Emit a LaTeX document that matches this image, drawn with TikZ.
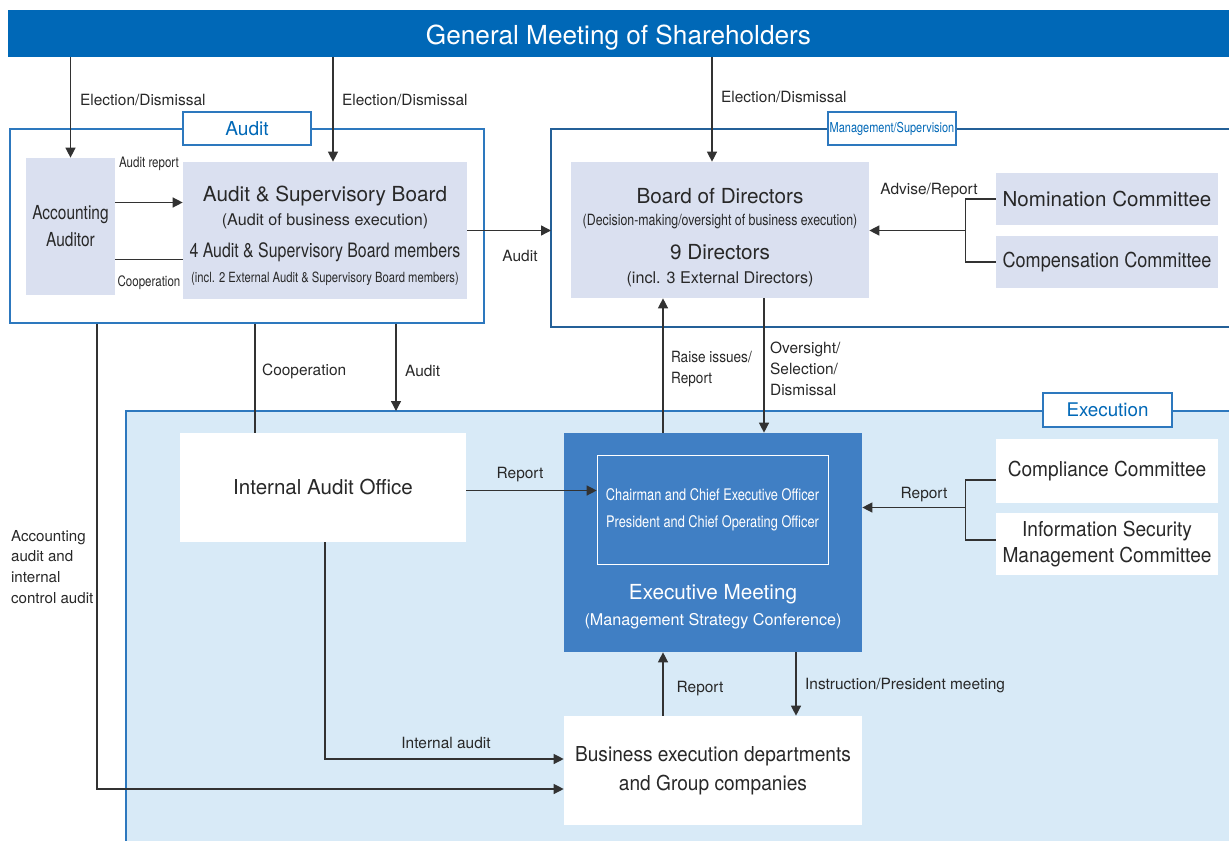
\documentclass[tikz,border=0pt]{standalone}
\usepackage{fontspec}
\setmainfont{TeX Gyre Heros}
\newfontfamily\condfont[FakeStretch=0.8]{TeX Gyre Heros}
\newfontfamily\semifont[FakeStretch=0.88]{TeX Gyre Heros}
\newfontfamily\nearfont[FakeStretch=0.93]{TeX Gyre Heros}
\usetikzlibrary{arrows.meta,calc}
\definecolor{shblue}{RGB}{0,104,183}
\definecolor{frameblue}{RGB}{45,120,190}
\definecolor{boxfill}{RGB}{218,224,240}
\definecolor{execfill}{RGB}{216,234,247}
\definecolor{emblue}{RGB}{64,127,196}
\definecolor{txtgray}{RGB}{40,40,40}
\definecolor{linegray}{RGB}{50,50,50}
\begin{document}
\begin{tikzpicture}[x=0.02cm, y=-0.02cm, >={Triangle[length=2mm,width=2mm]},
    box/.style={fill=boxfill, text=txtgray, inner sep=0pt, align=center, font=\fontsize{11.7}{16.4}\selectfont},
    lbl/.style={text=txtgray, inner sep=1pt, font=\fontsize{8.8}{11.9}\selectfont},
    small/.style={text=txtgray, inner sep=1pt, font=\fontsize{8.2}{10}\condfont},
    tag/.style={draw=frameblue, fill=white, text=shblue, inner sep=0pt, line width=0.8pt, minimum width=2.56cm, minimum height=0.66cm},
    conn/.style={draw=linegray, line width=0.75pt}]
    \useasboundingbox (0,0) rectangle (1229,841);

    % areas
    \fill[execfill] (126,411) rectangle (1229,841);
    \draw[frameblue, line width=0.8pt] (1229,411) -| (126,841);
    \coordinate (exnw) at (126,411);
    \draw[frameblue!80!black, line width=0.8pt] (1229,129) -| (551,327) -- (1229,327);
    \coordinate (mgw) at (551,230);
    \node[draw=frameblue, line width=0.8pt, minimum width=9.48cm, minimum height=3.88cm] (auditbox) at (247,226) {};

    \node[fill=shblue, text=white, inner sep=0pt, minimum width=24.42cm, minimum height=0.94cm,
          font=\fontsize{14.9}{18}\selectfont, text height=14.4pt, text depth=2pt] (title) at (618.5,33.5) {General Meeting of Shareholders};

    \node[tag, font=\fontsize{10.9}{13}\selectfont] (auditlbl) at (auditbox.north) {Audit};
    \node[tag, font=\fontsize{7.8}{9}\condfont] (mgmtlbl) at (892,128.5) {Management/Supervision};
    \node[tag, minimum width=2.58cm, minimum height=0.68cm, font=\fontsize{10.7}{13}\selectfont] (execlbl) at (1107.5,410) {Execution};

    % audit side
    \node[box, minimum width=1.78cm, minimum height=2.74cm, font=\fontsize{11}{15.3}\condfont] (acc) at (70.5,226.5) {Accounting\\Auditor};
    \node[box, minimum width=5.68cm, minimum height=2.74cm] (asb) at (325,230.5) {};
    \node[text=txtgray, font=\fontsize{11.8}{14}\selectfont] (asb1) at (325,196) {Audit \& Supervisory Board};
    \node[text=txtgray, font=\fontsize{9.2}{11}\selectfont] (asb2) at (325,221) {(Audit of business execution)};
    \node[text=txtgray, font=\fontsize{11.3}{14}\condfont] (asb3) at (325,252) {4 Audit \& Supervisory Board members};
    \node[text=txtgray, font=\fontsize{8}{10}\condfont] (asb4) at (325,279) {(incl. 2 External Audit \& Supervisory Board members)};

    % management side
    \node[box, minimum width=5.96cm, minimum height=2.72cm] (bod) at (720,230) {};
    \node[text=txtgray, font=\fontsize{11.8}{14}\selectfont] (bod1) at (720,196) {Board of Directors};
    \node[text=txtgray, font=\fontsize{8.8}{10}\condfont] (bod2) at (720,222) {(Decision-making/oversight of business execution)};
    \node[text=txtgray, font=\fontsize{11.8}{14}\selectfont] (bod3) at (720,252) {9 Directors};
    \node[text=txtgray, font=\fontsize{9.2}{11}\selectfont] (bod4) at (720,279) {(incl. 3 External Directors)};
    \node[box, minimum width=4.44cm, minimum height=1.04cm] (nom) at (1107,199) {Nomination Committee};
    \node[box, minimum width=4.44cm, minimum height=1.04cm, font=\fontsize{11.7}{16.4}\semifont] (comp) at (1107,262) {Compensation Committee};

    % execution side
    \node[box, fill=white, minimum width=5.72cm, minimum height=2.18cm] (iao) at (323,487.5) {Internal Audit Office};
    \node[fill=emblue, inner sep=0pt, minimum width=5.96cm, minimum height=4.38cm] (em) at (713,542.5) {};
    \node[draw=white, text=white, inner sep=0pt, align=center, minimum width=4.62cm, minimum height=2.18cm,
          font=\fontsize{9.1}{15.3}\condfont] (inner) at (712.5,509.5) {Chairman and Chief Executive Officer\\President and Chief Operating Officer};
    \node[text=white, font=\fontsize{11.8}{14}\selectfont] (em1) at (713,594) {Executive Meeting};
    \node[text=white, font=\fontsize{9.2}{11}\selectfont] (em2) at (713,621) {(Management Strategy Conference)};
    \node[box, fill=white, minimum width=4.44cm, minimum height=1.28cm, font=\fontsize{11.7}{16.4}\nearfont] (cc) at (1107,471) {Compliance Committee};
    \node[box, fill=white, minimum width=4.44cm, minimum height=1.24cm, font=\fontsize{11.7}{15.3}\nearfont] (isc) at (1107,544) {Information Security\\Management Committee};
    \node[box, fill=white, minimum width=5.96cm, minimum height=2.18cm, font=\fontsize{11.7}{16.4}\nearfont] (bus) at (713,770.5) {Business execution departments\\and Group companies};

    % connectors
    \draw[conn, ->] (title.south -| acc.north) -- (acc.north);
    \coordinate (asbtop) at ($(asb.north)+(8,0)$);
    \draw[conn, ->] (title.south -| asbtop) -- (asbtop);
    \coordinate (bodtop) at ($(bod.north)+(-8,0)$);
    \draw[conn, ->] (title.south -| bodtop) -- (bodtop);
    \coordinate (ar) at ($(acc.east)+(0,-24)$);
    \draw[conn, ->] (ar) -- (ar -| asb.west);
    \coordinate (co) at ($(acc.east)+(0,33)$);
    \draw[conn] (co) -- (co -| asb.west);
    \draw[conn, ->] (asb.east) -- (asb.east -| mgw);
    \draw[conn] (nom.west) -- ++(-30,0) |- (comp.west);
    \coordinate (nc) at ($(nom.west)!0.5!(comp.west)+(-30,0)$);
    \draw[conn, ->] (nc) -- (nc -| bod.east);
    \coordinate (ri) at ($(em.north)+(-50,0)$);
    \draw[conn, ->] (ri) -- (ri |- bod.south);
    \coordinate (ov) at ($(bod.south)+(44,0)$);
    \draw[conn, ->] (ov) -- (ov |- em.north);
    \coordinate (cp) at ($(iao.north)+(-68,0)$);
    \draw[conn] (cp |- auditbox.south) -- (cp);
    \coordinate (au) at ($(auditbox.south)+(149,0)$);
    \draw[conn, ->] (au) -- (au |- exnw);
    \draw[conn, ->] ($(auditbox.south)+(-150,0)$) |- ($(bus.west)+(0,18.5)$);
    \draw[conn, ->] ($(iao.south)+(2,0)$) |- ($(bus.west)+(0,-11.5)$);
    \coordinate (rp) at ($(iao.east)+(0,3)$);
    \draw[conn, ->] (rp) -- (rp -| inner.west);
    \draw[conn] ($(cc.west)+(0,9)$) -- ++(-30,0) |- ($(isc.west)+(0,-4)$);
    \coordinate (cr) at ($(cc.west)!0.5!(isc.west)+(-30,0)$);
    \draw[conn, ->] (cr) -- (cr -| em.east);
    \coordinate (br) at ($(bus.north)+(-50,0)$);
    \draw[conn, ->] (br) -- (br |- em.south);
    \coordinate (in) at ($(em.south)+(83,0)$);
    \draw[conn, ->] (in) -- (in |- bus.north);

    % labels
    \node[lbl, anchor=west] (l1) at (78,100) {Election/Dismissal};
    \node[lbl, anchor=west] (l2) at (340,100) {Election/Dismissal};
    \node[lbl, anchor=west] (l3) at (719,97) {Election/Dismissal};
    \node[small] (l4) at (149,164) {Audit report};
    \node[small] (l5) at (149,283) {Cooperation};
    \node[lbl] (l6) at (520,256) {Audit};
    \node[lbl] (l7) at (929,191) {Advise/Report};
    \node[lbl, anchor=west] (l8) at (260,371) {Cooperation};
    \node[lbl, anchor=west] (l9) at (403,371) {Audit};
    \node[lbl, anchor=west, align=left, font=\fontsize{8.8}{11.9}\semifont] (l10) at (669,369) {Raise issues/\\Report};
    \node[lbl, anchor=west, align=left] (l11) at (768,368.5) {Oversight/\\Selection/\\Dismissal};
    \node[lbl, anchor=west, align=left, font=\fontsize{8.6}{11.9}\selectfont] (l12) at (9,567) {Accounting\\audit and\\internal\\control audit};
    \node[lbl] (l13) at (520,475) {Report};
    \node[lbl] (l14) at (924,495) {Report};
    \node[lbl] (l15) at (700,689) {Report};
    \node[lbl, anchor=west] (l16) at (803,686) {Instruction/President meeting};
    \node[lbl] (l17) at (446,743) {Internal audit};
\end{tikzpicture}
\end{document}
